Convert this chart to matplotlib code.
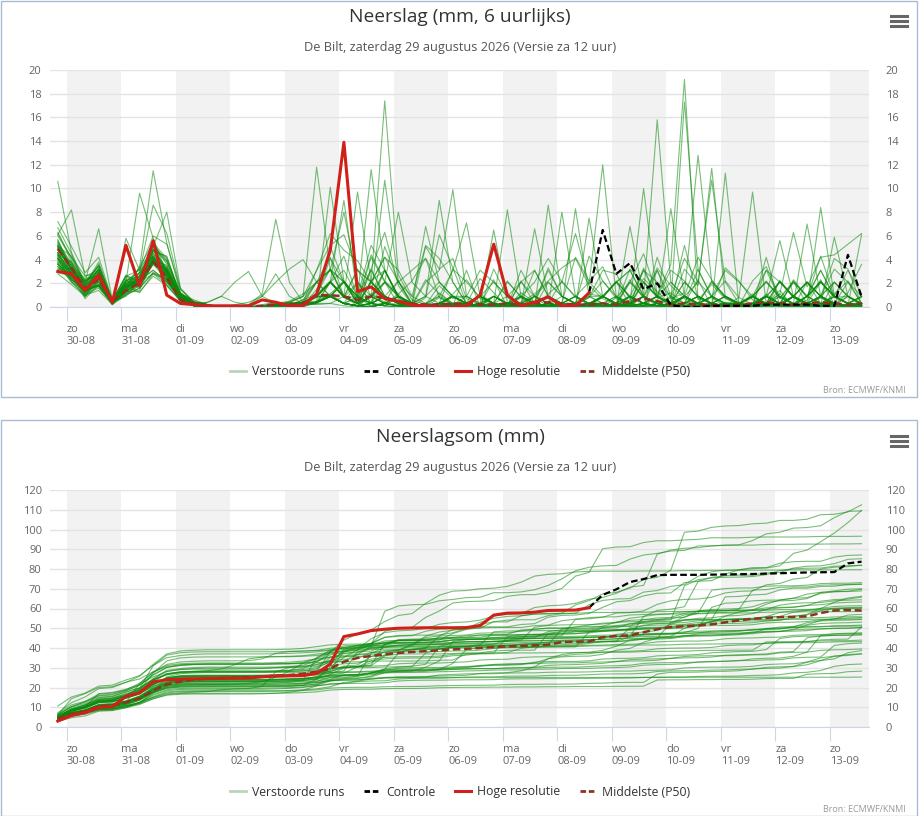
import matplotlib
matplotlib.use("Agg")
import matplotlib.pyplot as plt
import numpy as np
from matplotlib.lines import Line2D
from matplotlib.patches import Rectangle

plt.rcParams['font.family'] = ['Open Sans', 'DejaVu Sans']

# dagen op de x-as
dag_namen = ["zo", "ma", "di", "wo", "do", "vr", "za", "zo", "ma", "di", "wo", "do", "vr", "za", "zo"]
dag_datums = ["30-08", "31-08", "01-09", "02-09", "03-09", "04-09", "05-09", "06-09",
              "07-09", "08-09", "09-09", "10-09", "11-09", "12-09", "13-09"]

# hoge resolutie (6-uurlijks, eerste 40 tijdstappen)
hoge_resolutie = [3.0, 2.8, 1.4, 2.7, 0.4, 5.2, 1.8, 5.6, 1.0, 0.3,
                  0.2, 0.1, 0.1, 0.1, 0.1, 0.6, 0.4, 0.1, 0.1, 1.1,
                  4.8, 13.9, 1.3, 1.7, 0.7, 0.5, 0.15, 0.1, 0, 0,
                  0.1, 1.0, 5.3, 1.0, 0.1, 0.4, 0.85, 0.1, 0.1, 1.2]

# controle (vanaf stap 39, waar de hoge resolutie stopt)
controle = [1.2, 6.5, 2.8, 3.7, 1.5, 2.0, 0.15, 0, 0, 0.1, 0.1,
            0.1, 0.1, 0.2, 0.2, 0.2, 0.2, 0.1, 0.1, 4.4, 0.85]

# middelste (P50), 6-uurlijks
mediaan_6u = [4.9, 3.3, 1.6, 2.3, 0.5, 1.4, 2.0, 3.8, 2.5, 0.6,
              0.3, 0.1, 0, 0, 0, 0.1, 0.2, 0.2, 0.3, 1.0,
              1.0, 0.9, 0.6, 0.9, 0.8, 0.5, 0.3, 0.2, 0.2, 0.3,
              0.3, 0.2, 0.2, 0.3, 0.2, 0.3, 0.4, 0.3, 0.2, 0.2,
              0.3, 0.2, 0.5, 0.7, 0.5, 0.2, 0.3, 0.2, 0.2, 0.1,
              0.2, 0.3, 0.4, 0.3, 0.2, 0.3, 0.4, 0.3, 0.2, 0.3]

# middelste (P50), neerslagsom
mediaan_som = [4.2, 6.5, 8, 10.5, 11, 12.5, 14.5, 18.5, 21.5, 23,
               24, 24.5, 24.8, 25, 25.2, 25.5, 26, 26.3, 27, 28,
               29.5, 33, 35, 36, 36.8, 37.5, 38, 38.4, 38.8, 39.3,
               39.6, 40, 40.5, 40.8, 41, 41.3, 41.7, 43, 43.2, 43.3,
               45.5, 46, 46.4, 48, 49.5, 50.6, 51, 51.4, 52, 53,
               54, 54.8, 55.2, 55.6, 55.8, 56, 57.7, 59, 59.2, 59]

# verstoorde runs (6-uurlijks), per rij 60 tijdstappen
verstoorde_runs = [
    [4.2, 2.6, 1.2, 2.9, 0.4, 1.7, 2.3, 4.4, 2.6, 0.7, 0.2, 0, 0, 0, 0, 0.1, 0.4, 0.2, 0.1, 1.5, 3.2, 2.1, 0.6, 4.4, 2.2, 1.1, 0, 0.8, 6.1, 3.3, 0.3, 2.4, 1.2, 0, 3.1, 0.9, 0, 0.4, 4.2, 2.2, 3.4, 0.8, 2.1, 4.5, 1.0, 3.6, 19.2, 0.6, 1.9, 0.7, 0.2, 0.9, 0.3, 1.4, 0, 0.6, 2.3, 0.2, 1.2, 3.6],
    [6.3, 4.1, 2.2, 3.4, 0.6, 1.9, 2.8, 5.3, 3.6, 1.1, 0.4, 0.1, 0, 0, 0, 0, 0.2, 0.1, 0.6, 2.1, 4.2, 0.9, 0.3, 2.2, 3.1, 0.8, 0.2, 0, 0.1, 1.1, 2.3, 0.7, 0, 0, 1.2, 0.4, 3.3, 0.9, 0.2, 0.8, 3.1, 2.8, 0.6, 2.4, 1.3, 0.2, 5.2, 0.7, 0.3, 3.3, 2.2, 0.6, 0.3, 1.1, 6.3, 1.7, 4.2, 4.4, 5.3, 6.2],
    [3.2, 3.6, 1.1, 2.2, 0.3, 1.2, 1.8, 3.8, 2.6, 0.5, 0.1, 0, 0, 0, 0, 0.1, 0.2, 0, 0.4, 3.1, 6.2, 4.8, 3.9, 2.1, 17.4, 2.7, 0.6, 0.2, 1.8, 0.7, 0.9, 0.2, 2.3, 0, 0.4, 1.1, 2.2, 3.3, 4.1, 1.8, 0.7, 0.2, 3.2, 2.1, 0.8, 1.2, 0.3, 2.3, 0, 0.4, 0.1, 2.2, 3.4, 0.8, 2.1, 0.3, 0.9, 4.1, 3.2, 0.2],
    [5.4, 3.7, 1.9, 3.8, 0.5, 2.6, 1.8, 4.7, 4.3, 0.9, 0.5, 0.2, 0, 0, 0, 0, 0.1, 0.3, 0.1, 0.9, 2.1, 4.3, 0.8, 3.2, 6.3, 1.8, 0.2, 5.1, 3.2, 4.1, 0.7, 0.2, 0.3, 2.2, 0.8, 0, 1.1, 2.1, 6.2, 1.9, 12.0, 0.8, 0.2, 2.1, 0.9, 0, 0.4, 0.3, 0.8, 0, 0, 0.3, 0.1, 0, 0, 0.1, 0.2, 0, 0, 0.1],
    [10.6, 4.6, 2.0, 3.5, 0.5, 2.6, 2.2, 5.2, 3.9, 1.1, 0.6, 0.2, 0, 0, 0, 0, 0.1, 0.2, 0.3, 0.4, 0.9, 2.2, 0.3, 0.8, 3.1, 0.7, 0.2, 2.3, 1.1, 0.2, 0.3, 0, 3.2, 0.8, 0.2, 0, 2.1, 0.9, 0.3, 4.3, 2.2, 0.7, 0.2, 3.3, 0.8, 2.1, 0.9, 4.2, 2.3, 0.8, 0.2, 1.1, 0, 2.2, 0.8, 0.2, 0, 2.1, 0.9, 0.2],
    [3.8, 2.9, 1.1, 2.2, 0.3, 2.1, 9.6, 5.8, 2.8, 0.9, 0.3, 0.1, 0, 0, 0, 0, 0.1, 0, 0.2, 1.1, 2.2, 0.8, 0.3, 4.2, 2.1, 0.9, 0.1, 0, 1.2, 0.3, 0.1, 1.1, 0.3, 0, 2.2, 0.3, 0.8, 0, 0.4, 1.1, 0.9, 0.2, 2.3, 0.8, 3.1, 0.7, 1.2, 12.8, 2.1, 0.8, 0.3, 0, 1.1, 0.2, 2.3, 0.9, 0.2, 1.1, 2.2, 0.3],
    [5.1, 4.3, 1.7, 2.8, 0.5, 1.8, 3.3, 11.5, 5.4, 1.2, 0.4, 0.1, 0, 0, 0, 0, 0, 0.2, 0.1, 0.4, 1.1, 0.3, 0.8, 0.1, 0.4, 2.2, 0.1, 0, 0.3, 3.2, 2.1, 0.8, 0.2, 0, 0, 0.9, 0.3, 2.2, 0.8, 0.2, 0.8, 2.1, 0.2, 0.9, 3.3, 1.8, 0.7, 0.2, 0.9, 2.2, 0.8, 0.2, 3.1, 0.7, 2.2, 0.8, 4.3, 0.9, 0.3, 0.8],
    [6.1, 8.2, 2.6, 3.1, 0.4, 2.3, 1.6, 3.7, 3.2, 0.8, 0.3, 0.1, 0, 0, 0, 0, 0.2, 0.2, 0.6, 1.1, 3.2, 0.8, 2.1, 0.3, 0.9, 2.2, 0.3, 0, 0.8, 0.2, 0.9, 0.3, 0, 0, 0.3, 0.1, 0.2, 0.9, 0.3, 0, 0, 0.8, 0.3, 2.1, 0.9, 0.2, 3.2, 1.8, 11.7, 0.8, 0.3, 0, 0.9, 0.2, 0, 0.3, 0.8, 0.2, 0, 0.3],
    [4.4, 3.8, 2.1, 6.6, 0.6, 1.6, 2.4, 3.9, 2.7, 1.0, 0.2, 0, 0, 0, 0.1, 0.2, 0.4, 0.2, 0.1, 0.3, 2.1, 0.8, 3.2, 0.9, 0.3, 1.1, 2.2, 4.1, 0.8, 0.2, 0.3, 0.9, 0.2, 0, 0.8, 0.3, 0, 0, 0.1, 0.2, 0.9, 0.2, 2.1, 0.8, 0.3, 0, 0.9, 0.2, 0.1, 11.3, 0.2, 0.8, 0.3, 2.2, 0.9, 0, 0.8, 0.2, 0.9, 0.1],
    [2.8, 1.9, 0.9, 2.4, 0.3, 1.4, 2.6, 5.1, 8.0, 1.6, 0.4, 0.2, 0, 0, 0, 0, 0.1, 0, 0, 0.4, 10.1, 2.2, 0.8, 0.3, 2.1, 0.2, 0.1, 0, 0.3, 0.9, 0.1, 0.3, 0.9, 0.2, 0, 0, 0.3, 0.1, 0.2, 0.8, 2.2, 0.9, 0.2, 3.1, 0.8, 0.3, 2.1, 0.9, 0.2, 0.1, 0.8, 9.7, 0.3, 1.1, 0.2, 0, 0.9, 0.2, 0, 0.3],
    [5.3, 3.2, 1.4, 3.3, 0.4, 2.2, 2.9, 8.6, 6.2, 1.5, 0.4, 0.1, 0, 0, 0, 0, 0, 0.1, 0.2, 0.4, 0.9, 0.3, 0.1, 2.2, 0.8, 0.3, 0, 0, 0.2, 0.3, 0.1, 0.3, 6.5, 0.4, 0.1, 0.9, 0.3, 0, 0, 0.3, 0.8, 2.1, 0.9, 0.3, 0.1, 0.8, 0.3, 3.2, 0.8, 0.2, 0.3, 0.9, 2.2, 0.8, 0.2, 0.9, 3.1, 0.8, 0.9, 0.2],
    [3.6, 2.7, 0.7, 1.9, 0.3, 5.8, 3.1, 4.2, 1.8, 0.6, 0.2, 0.1, 0, 0, 0, 0, 0.2, 0.4, 0.2, 2.1, 3.2, 0.9, 0.3, 2.1, 0.8, 0.3, 0.1, 0, 0.3, 0.9, 0.3, 0.1, 0.3, 8.2, 0.9, 0.3, 0.1, 0.3, 0.9, 0.2, 0.3, 0.1, 0.9, 0.3, 0.1, 0.3, 0.8, 0.3, 2.2, 0.9, 0.3, 0.1, 0.9, 2.1, 0.8, 0.3, 0.9, 3.2, 2.1, 0.9],
    [2.9, 2.6, 1.3, 2.1, 0.2, 1.8, 1.2, 2.8, 1.9, 0.5, 0.3, 0.4, 0.9, 0.4, 0.2, 1.1, 7.4, 2.1, 0.4, 0.9, 2.1, 0.8, 0.3, 3.2, 0.9, 0.3, 0.1, 0, 0.3, 0.9, 0.3, 0.9, 0.3, 0.1, 0, 0.3, 0.9, 0.3, 0.1, 0.3, 0.9, 2.2, 0.8, 0.3, 0.9, 3.1, 2.2, 0.8, 0.3, 0.9, 0.3, 0.9, 2.1, 0.8, 0.3, 0.9, 2.2, 0.8, 0.3, 0.9],
    [5.6, 3.4, 2.4, 2.7, 0.5, 2.4, 1.9, 4.8, 3.3, 0.9, 0.2, 0.4, 0.9, 2.1, 3.0, 0.9, 0.3, 0.1, 0.3, 0.8, 0.9, 0.3, 2.1, 0.3, 0.1, 0.9, 0.3, 0.1, 0, 0.3, 0.1, 0.3, 0.9, 0.3, 0.1, 6.6, 0.9, 0.3, 0.1, 0, 0.3, 0.9, 0.3, 0.1, 0.9, 0.3, 2.1, 0.9, 0.3, 0.1, 0.3, 0.9, 0.3, 2.2, 0.9, 0.3, 0.1, 0.9, 0.3, 0.2],
    [4.1, 2.8, 1.6, 1.7, 0.3, 1.3, 2.2, 3.6, 2.9, 0.7, 0.2, 0.1, 0, 0.2, 0.4, 0.9, 2.1, 3.2, 4.0, 2.1, 0.9, 0.3, 0.1, 0, 0.3, 0.9, 0.1, 0, 0, 0.2, 0.3, 0.1, 0.9, 0.3, 0.1, 0, 8.6, 0.9, 0.3, 0.1, 0.3, 0.1, 0.3, 0.9, 0.1, 0.3, 0.9, 0.3, 0.1, 0.3, 0.1, 0.3, 0.9, 0.3, 2.1, 0.9, 3.1, 0.9, 0.3, 0.1],
    [6.7, 4.5, 1.8, 3.6, 0.6, 1.6, 3.4, 5.4, 4.1, 1.2, 0.4, 0.2, 0, 0, 0.1, 0.9, 2.8, 0.9, 0.3, 0.2, 0.3, 0.9, 0.1, 0, 0.3, 0.1, 0, 0, 0.1, 0.3, 0.1, 0.3, 0, 0.1, 0.3, 0.1, 0, 8.0, 0.9, 0.3, 0.1, 0.3, 0.9, 0.3, 0.1, 0, 0.3, 0.9, 0.3, 0.1, 0.1, 0.3, 0.9, 0.3, 0.1, 0.9, 2.1, 0.9, 0.3, 0.2],
    [4.6, 2.9, 0.9, 2.8, 0.3, 1.5, 1.4, 3.9, 3.0, 0.6, 0.1, 0, 0, 0, 0, 0, 0.2, 0.4, 0.9, 11.8, 3.1, 0.9, 0.3, 2.1, 0.9, 0.3, 0.1, 0, 0.3, 0.9, 0.3, 0.1, 0, 0.3, 0.9, 0.3, 0.1, 0, 8.3, 0.9, 0.3, 0.1, 0.9, 0.3, 0.1, 0.3, 0.9, 0.3, 0.1, 0.3, 0.1, 0.3, 0.9, 0.3, 0.1, 0.9, 0.3, 0.9, 0.3, 0.2],
    [4.8, 3.3, 2.3, 2.6, 0.5, 2.7, 2.1, 5.6, 2.5, 1.1, 0.2, 0.1, 0, 0, 0, 0, 0.1, 0.2, 0.4, 0.9, 4.1, 2.1, 0.9, 0.3, 0.9, 0.3, 0.1, 0, 0.1, 0.3, 0.1, 0.3, 0.9, 0.3, 0.1, 0, 0.3, 0.1, 0, 7.5, 0.9, 0.3, 0.1, 0, 0.3, 0.1, 0.3, 0.9, 0.3, 0.1, 0.1, 0.3, 0.9, 0.3, 0.1, 0.3, 0.9, 0.3, 2.1, 0.3],
    [4.4, 2.8, 1.3, 1.9, 0.3, 1.8, 2.9, 3.9, 3.2, 0.9, 0.2, 0.1, 0, 0, 0, 0, 0.2, 0.4, 0.2, 0.9, 2.1, 0.9, 9.7, 2.1, 0.9, 0.3, 0.1, 0, 0.3, 0.1, 0.1, 0.3, 0, 0.1, 0.3, 0, 0.1, 0.3, 0.1, 0, 0.3, 0.1, 6.8, 0.9, 0.3, 0.1, 0.3, 0.9, 0.3, 0.1, 0.1, 0.3, 0.1, 0.3, 0.9, 0.3, 0.1, 0.3, 0.1, 0],
    [3.1, 3.3, 1.5, 2.9, 0.4, 0.9, 2.2, 3.1, 2.1, 0.7, 0.1, 0, 0, 0, 0, 0, 0.1, 0.2, 0.4, 0.9, 2.1, 0.9, 0.8, 11.6, 3.1, 0.9, 0.3, 0.1, 0.3, 0.9, 0.3, 0.1, 0, 0.3, 0.9, 0.3, 0.1, 0, 0.1, 0.3, 0.3, 0.1, 0.3, 10.0, 0.9, 0.3, 0.1, 0, 0.3, 0.1, 0, 0.1, 0.3, 0.1, 0, 0.1, 0, 0.1, 0, 0.1],
    [5.2, 3.5, 1.5, 3.2, 0.4, 2.0, 1.7, 4.1, 3.4, 1.0, 0.2, 0, 0, 0, 0, 0.1, 0.2, 0.1, 0.2, 0.4, 0.9, 2.1, 0.3, 0.9, 10.7, 2.1, 0.3, 0.1, 0, 0.3, 0.1, 0, 0.3, 0.1, 0, 0.3, 0.1, 0, 0.1, 0.3, 0.3, 0.1, 0, 0.3, 0.1, 0.3, 0.9, 0.3, 0.1, 0, 0.1, 0.3, 0.9, 0.3, 0.1, 0.3, 0.1, 0.3, 0.1, 0],
    [4.3, 2.5, 1.9, 2.8, 0.5, 1.2, 2.4, 4.5, 3.0, 0.7, 0.2, 0.1, 0, 0, 0, 0, 0.1, 0.2, 0.2, 0.4, 0.9, 0.3, 0.1, 0.9, 2.1, 8.0, 2.1, 0.9, 0.3, 0.1, 0.3, 0.1, 0, 0.1, 0.3, 0.1, 0, 0.1, 0.3, 0.9, 0.3, 0.1, 0.3, 0.9, 0.3, 8.3, 0.9, 0.3, 0.1, 0, 0, 0, 0, 0.1, 0, 0, 0.1, 0, 0, 0.1],
    [3.6, 2.3, 1.4, 1.9, 0.3, 1.6, 2.6, 4.3, 2.7, 0.6, 0.2, 0, 0, 0, 0, 0, 0.1, 0.2, 0.4, 0.9, 2.1, 0.9, 0.3, 0.9, 2.1, 0.9, 0.3, 6.8, 2.1, 0.9, 0.3, 0.1, 0, 0.3, 0.9, 0.3, 0.1, 0, 0.1, 0.3, 0.3, 0.1, 0.9, 0.3, 0.1, 0.3, 0.9, 0.3, 0.1, 0.3, 0.3, 0.9, 2.1, 0.9, 0.3, 0.9, 2.1, 0.9, 0.3, 0.3],
    [5.7, 3.0, 2.0, 3.5, 0.6, 1.8, 2.0, 5.2, 2.7, 1.2, 0.2, 0.1, 0, 0, 0, 0, 0.1, 0.1, 0.2, 0.4, 0.9, 0.3, 0.1, 0, 0.3, 0.1, 0.3, 0.9, 9.0, 2.1, 0.3, 0.1, 0, 0.1, 0.3, 0.1, 0, 0.1, 0.3, 0.1, 0.1, 0.3, 0.9, 0.3, 0.1, 0, 0.3, 0.9, 0.3, 0.1, 0.1, 0.3, 0.1, 0.3, 0.9, 0.3, 0.1, 0.3, 0.1, 0.3],
    [4.5, 3.8, 1.3, 2.7, 0.4, 2.1, 2.0, 3.9, 2.1, 0.8, 0.1, 0, 0, 0, 0, 0, 0.1, 0.2, 0.4, 0.9, 0.9, 0.3, 0.1, 0.3, 0.9, 0.3, 0.1, 2.1, 3.1, 9.9, 0.9, 0.3, 0.1, 0, 0.3, 0.1, 0, 0.1, 0.3, 0.1, 0.1, 0.3, 0.1, 0.9, 0.3, 0.1, 0, 0.3, 0.9, 0.3, 0.1, 0.3, 0.1, 0.3, 0.9, 0.3, 0.1, 0.3, 0.1, 0.3],
    [4.0, 2.3, 1.7, 1.8, 0.4, 1.4, 2.9, 4.3, 2.4, 0.9, 0.2, 0.1, 0, 0, 0, 0, 0.1, 0.2, 0.2, 0.4, 0.9, 2.1, 0.3, 0.9, 0.3, 0.1, 0, 0.3, 0.9, 3.1, 7.1, 0.9, 0.3, 0.1, 0, 0.3, 0.1, 0, 0.1, 0.3, 0.1, 0.3, 0.1, 0.3, 0.9, 0.3, 0.1, 0, 0.3, 0.9, 0.3, 0.1, 0.3, 0.1, 0.9, 0.3, 0.1, 0.3, 0.1, 0.3],
    [5.1, 3.1, 1.4, 2.9, 0.4, 1.6, 2.2, 4.8, 3.1, 0.7, 0.1, 0, 0, 0, 0, 0, 0.1, 0.2, 0.4, 2.1, 3.1, 8.0, 2.1, 0.9, 0.3, 0.1, 0, 0.1, 0.3, 0.9, 0.3, 0.1, 0, 0.3, 0.1, 0, 0.3, 0.1, 0, 0.3, 0.3, 0.1, 0.3, 0.9, 0.3, 0.1, 0, 0.3, 0.1, 0.3, 0.3, 0.9, 0.3, 0.1, 0.9, 2.1, 0.9, 0.3, 0.1, 0.3],
    [5.0, 3.6, 1.4, 2.9, 0.5, 2.2, 1.9, 3.8, 3.1, 1.0, 0.2, 0.1, 0, 0, 0, 0, 0.1, 0.1, 0.2, 0.9, 2.1, 9.0, 0.9, 0.3, 0.1, 0, 0.1, 0.3, 0.1, 0, 0.1, 0, 0.1, 0.3, 0.1, 0, 0.1, 0, 0.1, 0.3, 0.1, 0, 0.3, 0.1, 0, 0.1, 0.3, 0.1, 0, 0.1, 0.1, 0, 0.1, 0.3, 0.1, 0, 0.1, 0.3, 0.1, 0],
    [3.6, 2.1, 1.4, 1.8, 0.3, 1.1, 2.0, 4.3, 2.3, 0.6, 0.1, 0, 0, 0, 0, 0, 0.2, 0.1, 0.4, 0.9, 2.1, 0.9, 0.3, 0.9, 2.1, 0.9, 0.3, 0.1, 0.3, 0.9, 0.3, 0.9, 0.3, 0.1, 0.3, 0.9, 0.3, 0.1, 0, 0.3, 0.9, 0.3, 0.1, 0.3, 0.9, 0.3, 0.1, 0.3, 0.9, 0.3, 0.3, 0.1, 0.9, 5.6, 0.9, 0.3, 0.1, 0.3, 0.1, 0.3],
    [4.6, 2.8, 0.9, 2.1, 0.3, 1.6, 2.3, 4.0, 3.5, 0.8, 0.2, 0.1, 0, 0, 0, 0, 0.1, 0.2, 0.2, 0.4, 0.9, 0.3, 0.1, 2.1, 0.9, 0.3, 0.1, 0, 0.3, 0.1, 0.3, 0.1, 0, 0.3, 0.1, 0.3, 0.9, 0.3, 0.1, 0.3, 0.3, 0.9, 0.3, 0.1, 0.3, 0.9, 0.3, 0.1, 0.3, 0.9, 0.3, 0.1, 0.3, 0.9, 0.3, 7.0, 0.9, 0.3, 0.1, 0.1],
    [3.7, 2.5, 1.8, 2.7, 0.4, 1.3, 2.3, 3.1, 2.2, 0.7, 0.1, 0, 0, 0, 0, 0, 0, 0.1, 0.2, 0.4, 2.1, 0.9, 0.3, 0.9, 3.1, 0.9, 0.3, 0.1, 0, 0.3, 0.3, 0.1, 0.9, 0.3, 0.1, 0, 0.3, 0.1, 0, 0.3, 0.1, 0.3, 0.9, 0.3, 0.1, 0.3, 0.9, 0.3, 0.1, 0, 0.1, 0.3, 0.1, 0.9, 0.3, 0.1, 8.4, 0.9, 0.3, 0.1],
    [4.4, 3.0, 1.2, 2.6, 0.4, 1.5, 2.6, 3.9, 3.1, 1.0, 0.2, 0.1, 0, 0, 0, 0, 0.1, 0.2, 0.2, 0.3, 0.9, 0.3, 0.1, 0.3, 0.9, 0.3, 0.1, 0, 0.3, 0.1, 0.3, 0.1, 0.3, 0.1, 0, 0.3, 0.1, 0.3, 0.1, 0, 0.3, 0.1, 0.3, 0.9, 0.3, 0.1, 0.3, 0.9, 0.3, 0.1, 0.3, 0.1, 0.3, 0.1, 0.9, 0.3, 0.1, 5.9, 0.9, 0.3],
    [5.2, 3.3, 1.5, 2.5, 0.3, 1.8, 2.3, 4.9, 3.1, 0.8, 0.1, 0, 0, 0, 0, 0, 0.1, 0.2, 0.4, 0.9, 2.1, 0.9, 0.3, 0.1, 0.3, 0.9, 0.3, 0.1, 0, 0.3, 0.3, 0.9, 0.3, 0.1, 0.9, 0.3, 0.1, 0.3, 0.9, 0.3, 0.9, 0.3, 0.1, 0.3, 0.9, 0.3, 0.1, 0, 0.3, 0.9, 0.3, 0.1, 0.9, 0.3, 0.1, 0.3, 0.9, 0.3, 0.1, 6.1],
    [4.9, 3.2, 1.8, 2.6, 0.4, 1.7, 2.5, 4.6, 2.9, 1.0, 0.2, 0, 0, 0, 0, 0, 0.1, 0.2, 0.2, 0.4, 0.9, 0.3, 0.1, 0.3, 0.1, 0, 0.3, 0.1, 0, 0.3, 0.3, 0.1, 0, 0.3, 0.1, 0, 0.3, 0.1, 0, 0.3, 0.3, 0.1, 0.3, 0.9, 0.3, 0.1, 0, 0.3, 0.1, 0.3, 0.3, 0.9, 0.3, 0.1, 0.9, 2.1, 0.9, 0.3, 0.1, 0.3],
    [4.6, 2.4, 1.4, 2.7, 0.3, 1.3, 2.0, 4.0, 2.3, 0.6, 0.1, 0, 0, 0, 0, 0, 0.1, 0.1, 0.2, 0.4, 0.9, 0.3, 0.1, 0.9, 0.3, 0.1, 0, 0.3, 0.9, 0.3, 0.3, 0.1, 0, 0.3, 0.1, 0, 0.3, 0.1, 0, 0.1, 0.3, 0.1, 0, 0.3, 0.1, 0.3, 0.9, 0.3, 0.1, 0, 0.1, 0.3, 0.9, 0.3, 0.1, 0.9, 2.1, 0.9, 0.3, 0.9],
    [3.4, 2.2, 0.9, 1.8, 0.2, 1.6, 2.1, 2.8, 2.3, 0.6, 0.1, 0, 0, 0, 0, 0, 0.1, 0.1, 0.2, 0.4, 0.9, 0.3, 0.1, 0, 0.3, 0.1, 0, 0.1, 0.3, 0.1, 0.1, 0, 0.1, 0.3, 0.1, 0, 0.1, 0, 0.1, 0.3, 0.1, 0.3, 0.1, 0, 4.2, 0.9, 0, 0.1, 0.3, 0.1, 0.3, 0.9, 0.3, 0.1, 0.9, 2.1, 0.9, 2.1, 0.9, 0.3],
    [3.4, 2.7, 1.3, 1.9, 0.3, 1.1, 1.8, 3.6, 2.3, 0.6, 0.1, 0, 0, 0, 0, 0, 0.2, 0.3, 0.4, 0.9, 0.9, 0.3, 0.9, 0.3, 0.1, 0.9, 0.3, 0.1, 0, 0.3, 0.3, 0.1, 0, 0.3, 0.1, 0, 0.3, 0.1, 0, 0.3, 0.3, 0.1, 0, 0.3, 0.9, 0.3, 0.1, 0, 0.3, 0.1, 0.3, 0.1, 0.9, 0.3, 0.1, 0.9, 2.1, 0.9, 3.1, 1.1],
    [3.2, 2.9, 1.1, 1.6, 0.3, 1.3, 1.3, 2.6, 1.8, 0.5, 0.1, 0, 0, 0, 0, 0.1, 0.3, 0.5, 1.1, 2.1, 0.9, 0.3, 0.1, 0, 0.3, 0.9, 0.3, 0.1, 0, 0.1, 0.1, 0, 0.1, 0.3, 0.1, 0, 0.1, 0, 0.1, 0, 0.1, 0, 0.1, 0.3, 0.1, 0, 0.1, 0.3, 0.1, 0, 0.1, 0.3, 0.1, 0.3, 0.9, 0.3, 0.9, 2.1, 0.9, 0.3],
    [4.1, 2.1, 1.0, 1.4, 0.2, 1.0, 1.6, 2.9, 2.1, 0.6, 0.1, 0, 0, 0, 0, 0, 0, 0.1, 0.2, 0.4, 0.9, 0.3, 0.1, 0, 0.3, 0.1, 0, 0.1, 0.3, 0.1, 0.1, 0, 0.1, 0, 0.1, 0, 0.1, 0, 0.1, 0, 0, 0.1, 0, 0.1, 3.1, 0.1, 0, 0.1, 0, 0.1, 0, 0.1, 0.3, 0.1, 0, 2.1, 0.3, 0.1, 0.9, 0.3],
    [4.1, 2.3, 1.3, 1.8, 0.4, 1.0, 1.6, 2.9, 2.4, 0.5, 0.1, 0, 0, 0, 0, 0, 0, 0.1, 0.3, 0.5, 1.1, 2.2, 0.6, 1.1, 0.4, 0.2, 0.1, 0, 0, 0, 0, 0, 0, 0, 0.1, 0, 0, 0, 0, 0, 0, 0, 0, 0, 0, 0.1, 0, 0, 0, 0, 0, 0, 0, 0, 0, 0, 0, 0, 0, 0.1],
    [5.5, 3.1, 2.2, 2.8, 0.5, 2.1, 3.2, 4.9, 3.8, 1.1, 0.4, 0.2, 0, 0, 0, 0, 0.2, 0.4, 0.9, 2.1, 3.1, 2.1, 0.9, 5.2, 3.1, 0.9, 0.3, 0.9, 2.1, 0.9, 0.3, 0.9, 2.1, 0.9, 0.3, 3.1, 0.9, 0.3, 0.9, 2.1, 0.9, 2.1, 3.1, 0.9, 15.8, 2.1, 0.9, 0.3, 0.9, 0.3, 0.1, 0, 0.3, 0.1, 0, 0.1, 0, 0.1, 0, 0.1],
    [3.9, 2.9, 1.4, 2.6, 0.4, 1.7, 1.9, 4.2, 2.9, 0.8, 0.2, 0.1, 0, 0, 0, 0, 0.1, 0.2, 0.4, 0.9, 2.1, 3.1, 0.9, 0.3, 5.1, 2.1, 0.9, 0.3, 0.1, 0.9, 0.3, 0.9, 0.3, 2.1, 0.9, 0.3, 3.1, 0.9, 0.3, 0.1, 0.9, 0.3, 0.1, 2.1, 0.9, 0.3, 17.3, 3.1, 0.9, 0.3, 0.1, 0.3, 0.9, 2.1, 0.9, 0.3, 0.1, 0.9, 0.3, 0.1],
    [4.9, 3.2, 2.1, 3.0, 0.6, 1.8, 2.2, 3.9, 3.2, 0.9, 0.2, 0.1, 0, 0, 0, 0, 0.1, 0.2, 0.4, 0.4, 0.9, 2.1, 0.3, 3.1, 0.9, 0.3, 0.1, 0, 0.3, 0.9, 0.3, 0.9, 0.3, 0.1, 2.1, 0.9, 0.3, 0.1, 0.3, 0.9, 0.9, 0.3, 2.1, 0.9, 0.3, 0.1, 0.9, 2.1, 10.7, 2.1, 0.3, 0.9, 0.3, 0.1, 0.9, 2.1, 0.9, 0.3, 0.1, 0.3],
    [6.2, 3.9, 1.8, 3.2, 0.5, 2.0, 2.3, 4.1, 2.8, 1.0, 0.4, 0.2, 0, 0, 0, 0, 0.1, 0.2, 0.4, 0.9, 5.1, 2.1, 0.9, 0.3, 3.1, 0.9, 0.3, 0.1, 0.3, 0.9, 0.3, 0.1, 0.9, 0.3, 0.1, 0.3, 0.9, 0.3, 0.1, 0.3, 0.9, 0.3, 0.1, 0.9, 0.3, 0.1, 0.9, 0.3, 2.1, 0.9, 0.3, 0.1, 0.9, 0.3, 2.1, 0.9, 0.3, 0.9, 0.3, 0.1],
    [7.2, 5.1, 2.9, 4.2, 0.6, 2.6, 3.1, 6.0, 5.3, 1.5, 0.4, 0.2, 0, 0, 0, 0, 0.1, 0.2, 0.4, 0.9, 0.9, 0.3, 0.1, 0, 0.3, 0.1, 0, 0, 0.1, 0.3, 0.3, 0.1, 0, 0.3, 0.1, 0, 0.3, 0.1, 0, 0.3, 0.1, 0.3, 0.1, 0, 0.3, 0.1, 0.9, 0.3, 0.1, 0.3, 0.3, 0.1, 0.9, 0.3, 0.1, 0.3, 0.9, 0.3, 0.1, 0.3],
    [6.0, 4.2, 2.6, 2.9, 0.5, 2.2, 2.6, 5.2, 3.9, 1.1, 0.4, 0.2, 0, 0, 0, 0, 0.1, 0.2, 0.2, 0.3, 0.3, 0.1, 0, 0.3, 0.1, 0, 0, 0.1, 0.3, 0.1, 3.1, 0, 0.1, 0.3, 0.1, 0, 0.1, 0, 0.1, 0, 0.1, 0, 0.1, 0.3, 0.1, 0, 0.1, 0.3, 0.1, 0, 0.1, 0, 4.2, 0.1, 0, 0.1, 0.3, 0.1, 0, 0.3],
    [5.1, 2.8, 2.1, 3.1, 0.4, 1.9, 2.6, 4.8, 4.2, 0.9, 0.2, 0.1, 0, 0, 0, 0, 0.1, 0.4, 0.9, 3.1, 5.2, 6.1, 3.1, 2.1, 4.2, 3.1, 0.9, 5.2, 4.1, 2.1, 0.3, 0.9, 0.3, 0.9, 2.1, 3.1, 0.9, 0.3, 0.9, 0.3, 0.1, 0, 0, 0.1, 0, 0, 0.2, 0, 0.1, 0, 0, 0.1, 0, 0, 0.1, 0, 0, 0, 0.1, 0],
    [4.1, 3.1, 1.3, 2.4, 0.4, 1.4, 2.1, 4.1, 3.0, 0.7, 0.2, 0.1, 0, 0, 0, 0, 0.1, 0.2, 0.2, 0.9, 2.1, 0.9, 3.1, 2.1, 4.2, 2.1, 3.1, 4.1, 2.1, 0.9, 0.9, 3.1, 2.1, 0.9, 0.3, 0.9, 0.3, 0.1, 0, 0.3, 0.1, 0, 0.1, 0, 0.3, 0.1, 0, 0.1, 0.3, 0, 0.1, 0, 0.1, 0.3, 0, 0.1, 0.3, 0.1, 0, 0.1],
    [3.7, 2.4, 1.4, 2.4, 0.3, 1.3, 2.3, 3.8, 2.5, 0.7, 0.1, 0, 0, 0, 0, 0, 0.1, 0.3, 0.4, 0.9, 0.9, 0.3, 0.1, 0.3, 0.9, 0.3, 0.1, 0, 0.3, 0.1, 0.3, 0.9, 0.3, 0.1, 0.9, 2.1, 4.1, 2.1, 0.9, 0.3, 0.9, 2.1, 3.1, 0.9, 0.3, 0.1, 0.9, 0.3, 0.1, 0.3, 0.3, 0.9, 0.3, 0.1, 0.9, 2.1, 0.9, 0.3, 0.1, 0.3],
    [4.3, 3.3, 1.8, 3.1, 0.4, 1.8, 2.2, 3.7, 3.3, 1.1, 0.2, 0.1, 0, 0, 0, 0, 0.1, 0.2, 0.4, 0.4, 0.9, 0.3, 0.1, 0.3, 0.9, 0.3, 0.1, 0, 0.3, 0.1, 0.3, 0.9, 0.3, 0.1, 0.3, 0.9, 2.1, 0.9, 0.3, 0.1, 0.9, 2.1, 0.9, 3.1, 2.1, 0.9, 4.1, 2.1, 0.9, 3.1, 2.1, 0.9, 3.1, 2.1, 0.9, 0.3, 2.1, 0.9, 0.3, 0.9],
]
bad = [k for k, r in enumerate(verstoorde_runs) if len(r) != 60]
assert not bad, bad

runs = np.array(verstoorde_runs)
hr = np.array(hoge_resolutie)
ctrl = np.array(controle)

# tijd in dagen sinds zo 30-08 00 uur (eerste stap 29-08 20 uur)
t = (-4 + 6 * np.arange(runs.shape[1])) / 24.0
t_hr = t[:len(hr)]
t_ctrl = t[len(hr) - 1:]

GROEN = '#0a8a0a'
ROOD = '#d0201a'
BRUIN = '#8e3322'


def opmaak(ax, ymax, ystap):
    for d in range(0, 15, 2):
        ax.axvspan(d, d + 1, color='#f2f2f2', lw=0, zorder=0)
    ax.set_xlim(-0.31, 14.72)
    ax.set_ylim(0, ymax)
    ax.set_yticks(np.arange(0, ymax + 1, ystap))
    ax.grid(axis='y', color='#e3e3e3', lw=1)
    ax.set_axisbelow(True)
    for s in ['top', 'right', 'left']:
        ax.spines[s].set_visible(False)
    ax.spines['bottom'].set_color('#ccd6eb')
    ax.set_xticks(range(15))
    ax.set_xticklabels([f"{n}\n{d}" for n, d in zip(dag_namen, dag_datums)])
    for lbl in ax.get_xticklabels():
        lbl.set_horizontalalignment('left')
    ax.tick_params(axis='x', length=10, color='#ccd6eb', labelsize=8, labelcolor='#666666', pad=2)
    ax.tick_params(axis='y', length=0, labelsize=8, labelcolor='#666666', pad=6)
    ax2 = ax.twinx()
    ax2.set_ylim(0, ymax)
    ax2.set_yticks(np.arange(0, ymax + 1, ystap))
    ax2.tick_params(axis='y', length=0, labelsize=8, labelcolor='#666666', pad=12)
    for s in ax2.spines.values():
        s.set_visible(False)


def kop(y_titel, titel):
    fig.text(0.5, 1 - y_titel / 816, titel, ha='center', va='center', fontsize=13.8, color='#333333')
    fig.text(0.5, 1 - (y_titel + 30) / 816, "De Bilt, zaterdag 29 augustus 2026 (Versie za 12 uur)",
             ha='center', va='center', fontsize=9.2, color='#555555')
    for dy in (-5, 0, 5):
        fig.add_artist(Line2D([891 / 920, 907 / 920], [1 - (y_titel + 4 + dy) / 816] * 2,
                              transform=fig.transFigure, color='#666666', lw=2.2))


def legenda(y):
    handles = [Line2D([], [], color='#bcd4bc', lw=2),
               Line2D([], [], color='black', lw=2, ls=(0, (2, 1))),
               Line2D([], [], color=ROOD, lw=2.2),
               Line2D([], [], color=BRUIN, lw=2, ls=(0, (2, 1)))]
    labels = ["Verstoorde runs", "Controle", "Hoge resolutie", "Middelste (P50)"]
    fig.legend(handles, labels, loc='center', bbox_to_anchor=(0.5, 1 - y / 816), ncol=4,
               frameon=False, fontsize=8.8, handlelength=1.3, handletextpad=0.5,
               columnspacing=1.6, labelcolor='#333333')


fig = plt.figure(figsize=(9.2, 8.16), dpi=100)

# kaders
fig.add_artist(Rectangle((0.5 / 920, 1 - 397 / 816), 917 / 920, 396.5 / 816, transform=fig.transFigure,
                         fill=False, ec='#a9bdd2', lw=1))
fig.add_artist(Rectangle((0.5 / 920, 0.5 / 816), 917 / 920, 396 / 816, transform=fig.transFigure,
                         fill=False, ec='#a9bdd2', lw=1))

# bovenste grafiek: 6-uurlijkse neerslag
ax1 = fig.add_axes([50 / 920, 1 - 307 / 816, 819 / 920, 237 / 816])
opmaak(ax1, 20, 2)
for r in runs:
    ax1.plot(t, r, color=GROEN, lw=0.8, alpha=0.55, zorder=2)
ax1.plot(t, mediaan_6u, color=BRUIN, lw=1.8, ls=(0, (3, 1.5)), zorder=3)
ax1.plot(t_ctrl, ctrl, color='black', lw=1.6, ls=(0, (3, 1.5)), zorder=4)
ax1.plot(t_hr, hr, color=ROOD, lw=2.2, zorder=5)
kop(17, "Neerslag (mm, 6 uurlijks)")
legenda(372)
fig.text(906 / 920, 1 - 390 / 816, "Bron: ECMWF/KNMI", ha='right', va='center', fontsize=6.5, color='#999999')

# onderste grafiek: neerslagsom
ax3 = fig.add_axes([50 / 920, 1 - 727 / 816, 819 / 920, 237 / 816])
opmaak(ax3, 120, 10)
som = np.cumsum(runs, axis=1)
hr_som = np.cumsum(hr)
ctrl_som = hr_som[-2] + np.cumsum(ctrl)
for r in som:
    ax3.plot(t, r, color=GROEN, lw=0.8, alpha=0.55, zorder=2)
ax3.plot(t, mediaan_som, color=BRUIN, lw=1.8, ls=(0, (3, 1.5)), zorder=3)
ax3.plot(t_ctrl, ctrl_som, color='black', lw=1.6, ls=(0, (3, 1.5)), zorder=4)
ax3.plot(t_hr, hr_som, color=ROOD, lw=2.2, zorder=5)
kop(437, "Neerslagsom (mm)")
legenda(792)
fig.text(906 / 920, 1 - 809 / 816, "Bron: ECMWF/KNMI", ha='right', va='center', fontsize=6.5, color='#999999')

fig.savefig("out.png", dpi=100, facecolor='white')
